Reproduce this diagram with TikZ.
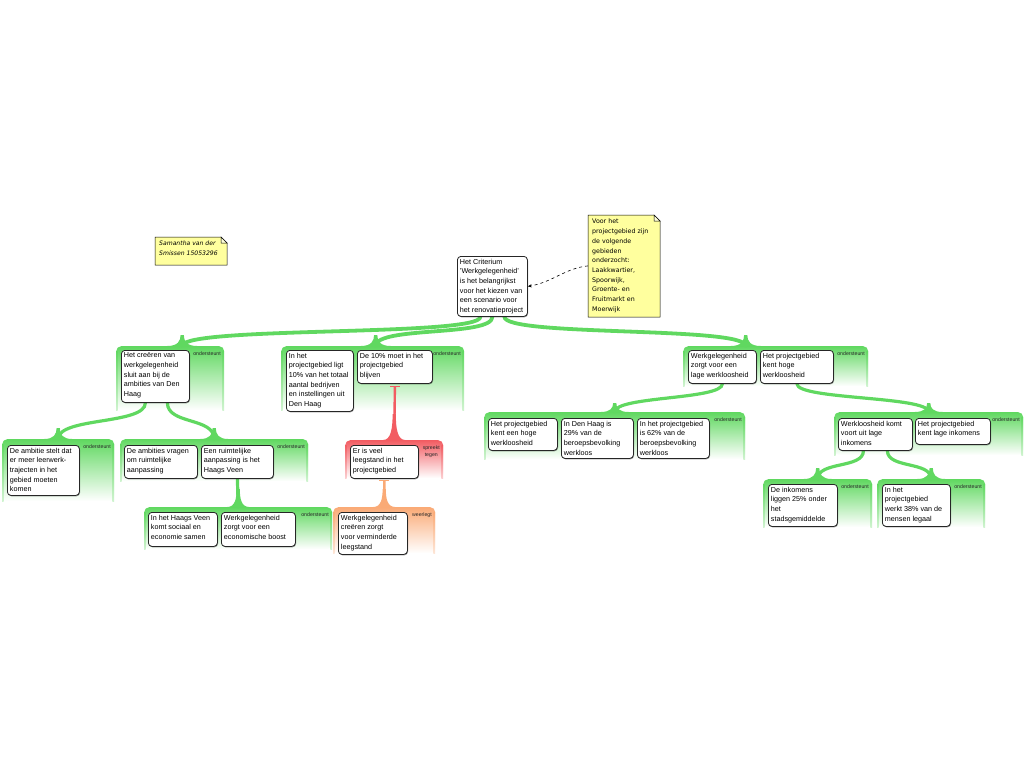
\documentclass[tikz,border=0pt]{standalone}
\usepackage{fontspec}
\setmainfont{Liberation Sans}
\newfontfamily\notefont{DejaVu Sans}
\usetikzlibrary{calc,shadows,arrows.meta}
\definecolor{grn}{RGB}{96,216,96}
\definecolor{redc}{RGB}{242,92,98}
\definecolor{orc}{RGB}{250,170,118}
\definecolor{notey}{RGB}{255,255,158}
\pgfdeclarelayer{bg}
\pgfdeclarelayer{mid}
\pgfsetlayers{bg,mid,main}
\tikzset{
  card/.style={draw=black!85, line width=0.8pt, rounded corners=3.5pt, fill=white,
    inner xsep=2.5pt, inner ysep=2.5pt, anchor=north west,
    font=\fontsize{7.2}{9.7}\selectfont,
    drop shadow={shadow xshift=0.6pt, shadow yshift=-0.9pt, opacity=0.4, fill=black}},
  grp/.style={rounded corners=5pt, anchor=north west, inner sep=0pt,
    top color=#1, bottom color=white, middle color=#1!50},
  lbl/.style={font=\fontsize{5.2}{6.5}\selectfont, text=black!85, inner sep=0pt,
    anchor=north east, align=center},
  conn/.style={draw=#1, line width=3.2pt, line cap=round},
  notetext/.style={anchor=north west, inner xsep=4pt, inner ysep=3pt,
    font=\notefont\fontsize{6.3}{9.7}\selectfont, align=left},
}
\newcommand\card[6]{\node[card] (#1) at (#2,#3)
  {\parbox[t][\dimexpr#5pt-5pt\relax][t]{\dimexpr#4pt-5pt\relax}{\raggedright #6}};}
\newcommand\grpbox[7]{%
  \node[grp=#6, minimum width=#4pt, minimum height=#5pt] (#1) at (#2,#3) {};
  \shade[top color=#6, bottom color=#6!30] (#2,#3+5) rectangle (#2+1.6,#3+#5);
  \shade[top color=#6, bottom color=#6!30] (#2+#4-1.6,#3+5) rectangle (#2+#4,#3+#5);
  \node[lbl] (#1-l) at (#2+#4-3,#3+6) {#7};}
% flare where a connector meets a group: #1 point, #2 colour, #3 half width, #4 height
\newcommand\flare[4]{%
  \begin{scope}[shift={(#1)}]
    \fill[#2] (-#3,0.5) -- (-#3,0) .. controls (-#3*0.3,0) and (-1.6,-#4*0.45) .. (-1.6,-#4)
      -- (1.6,-#4) .. controls (1.6,-#4*0.45) and (#3*0.3,0) .. (#3,0) -- (#3,0.5) -- cycle;
  \end{scope}}
\newcommand\curve[4]{%
  \draw[conn=#4] (#1) .. controls ($(#1)+(0,#3)$) and ($(#2)+(0,-#3)$) .. (#2);}

\begin{document}
\begin{tikzpicture}[x=1pt,y=-1pt]
\useasboundingbox (0,0) rectangle (1024,768);

% ---------- groups ----------
\begin{pgfonlayer}{bg}
\grpbox{gA}{116}{346}{108}{64}{grn}{ondersteunt}
\grpbox{gB}{281}{346}{183}{64}{grn}{ondersteunt}
\grpbox{gC}{683}{346}{185}{40}{grn}{ondersteunt}
\grpbox{gAa}{2}{439}{112}{62}{grn}{ondersteunt}
\grpbox{gAb}{120}{439}{188}{42}{grn}{ondersteunt}
\grpbox{gAba}{144}{507}{188}{42}{grn}{ondersteunt}
\grpbox{gR}{345}{440}{98}{38}{redc}{spreekt\\tegen}
\grpbox{gO}{333}{507}{102}{46}{orc}{weerlegt}
\grpbox{gCa}{484}{412}{261}{47}{grn}{ondersteunt}
\grpbox{gCb}{834}{412}{189}{43}{grn}{ondersteunt}
\grpbox{gCba}{763}{479}{109}{48}{grn}{ondersteunt}
\grpbox{gCbb}{877}{479}{108}{48}{grn}{ondersteunt}
\end{pgfonlayer}

% ---------- notes ----------
\draw[fill=notey, line width=0.5pt] (588,215) -- (654,215) -- (660,221) -- (660,317)
  -- (588,317) -- cycle;
\draw[fill=white!60!notey, line width=0.5pt] (654,215) -- (654,221) -- (660,221) -- cycle;
\node[notetext] (note) at (588,216) {Voor het\\projectgebied zijn\\de volgende\\gebieden\\onderzocht:\\Laakkwartier,\\Spoorwijk,\\Groente- en\\Fruitmarkt en\\Moerwijk};

\draw[fill=notey, line width=0.5pt] (155,237) -- (221,237) -- (227,243) -- (227,265)
  -- (155,265) -- cycle;
\draw[fill=white!60!notey, line width=0.5pt] (221,237) -- (221,243) -- (227,243) -- cycle;
\node[notetext, font=\notefont\itshape\fontsize{6.1}{9.7}\selectfont] (author) at (155,238)
  {Samantha van der\\Smissen 15053296};

% ---------- cards ----------
\card{root}{457}{256}{70}{60}{Het Criterium\\'Werkgelegenheid'\\is het belangrijkst\\voor het kiezen van\\een scenario voor\\het renovatieproject}
\card{A1}{121}{350}{68}{52}{Het creëren van\\werkgelegenheid\\sluit aan bij de\\ambities van Den\\Haag}
\card{B1}{286}{350}{67}{61}{In het\\projectgebied ligt\\10\% van het totaal\\aantal bedrijven\\en instellingen uit\\Den Haag}
\card{B2}{357}{350}{75}{33}{De 10\% moet in het\\projectgebied\\blijven}
\card{C1}{688}{350}{68}{33}{Werkgelegenheid\\zorgt voor een\\lage werkloosheid}
\card{C2}{760}{350}{73}{33}{Het projectgebied\\kent hoge\\werkloosheid}
\card{Aa1}{7}{445}{72}{50}{De ambitie stelt dat\\er meer leerwerk-\\trajecten in het\\gebied moeten\\komen}
\card{Ab1}{124}{445}{73}{33}{De ambities vragen\\om ruimtelijke\\aanpassing}
\card{Ab2}{201}{445}{72}{33}{Een ruimtelijke\\aanpassing is het\\Haags Veen}
\card{Aba1}{148}{512}{69}{34}{In het Haags Veen\\komt sociaal en\\economie samen}
\card{Aba2}{221}{512}{74}{34}{Werkgelegenheid\\zorgt voor een\\economische boost}
\card{R1}{350}{445}{68}{33}{Er is veel\\leegstand in het\\projectgebied}
\card{O1}{338}{512}{69}{42}{Werkgelegenheid\\creëren zorgt\\voor verminderde\\leegstand}
\card{Ca1}{488}{418}{69}{32}{Het projectgebied\\kent een hoge\\werkloosheid}
\card{Ca2}{561}{418}{72}{40}{In Den Haag is\\29\% van de\\beroepsbevolking\\werkloos}
\card{Ca3}{637}{418}{72}{40}{In het projectgebied\\is 62\% van de\\beroepsbevolking\\werkloos}
\card{Cb1}{838}{418}{74}{32}{Werkloosheid komt\\voort uit lage\\inkomens}
\card{Cb2}{915}{418}{75}{26}{Het projectgebied\\kent lage inkomens}
\card{Cba1}{768}{484}{69}{42}{De inkomens\\liggen 25\% onder\\het\\stadsgemiddelde}
\card{Cbb1}{882}{484}{68}{42}{In het\\projectgebied\\werkt 38\% van de\\mensen legaal}

% ---------- connectors ----------
\begin{pgfonlayer}{mid}
\curve{[xshift=-12pt]root.south}{[xshift=12pt]gA.north}{20}{grn, line width=3.8pt}
\curve{root.south}{[xshift=3pt]gB.north}{20}{grn, line width=3.8pt}
\curve{[xshift=12pt]root.south}{[xshift=-30pt]gC.north}{20}{grn, line width=3.8pt}
\flare{[xshift=12pt]gA.north}{grn}{15}{11}
\flare{[xshift=3pt]gB.north}{grn}{15}{11}
\flare{[xshift=-30pt]gC.north}{grn}{15}{11}
\curve{[xshift=-10pt]A1.south}{gAa.north}{22}{grn}
\curve{[xshift=12pt]A1.south}{gAb.north}{22}{grn}
\flare{gAa.north}{grn}{14}{11}
\flare{gAb.north}{grn}{14}{11}
\draw[conn=grn] (Ab2.south) -- (gAba.north);
\flare{gAba.north}{grn}{11}{18}
\curve{C1.south}{gCa.north}{16}{grn}
\curve{C2.south}{gCb.north}{16}{grn}
\flare{gCa.north}{grn}{14}{9}
\flare{gCb.north}{grn}{14}{9}
\curve{[xshift=-12pt]Cb1.south}{gCba.north}{18}{grn}
\curve{[xshift=12pt]Cb1.south}{gCbb.north}{18}{grn}
\flare{gCba.north}{grn}{14}{11}
\flare{gCbb.north}{grn}{14}{11}
\draw[conn=redc, line width=2.4pt, line cap=butt] ([yshift=-2.5pt]B2.south) -- (gR.north);
\draw[redc, line width=1.1pt] ([xshift=-5pt,yshift=-2.5pt]B2.south) -- ([xshift=5pt,yshift=-2.5pt]B2.south);
\flare{gR.north}{redc}{11}{26}
\draw[conn=orc, line width=2.4pt, line cap=butt] ([yshift=-1.5pt]R1.south) -- (gO.north);
\draw[orc, line width=1.1pt] ([xshift=-5pt,yshift=-1.5pt]R1.south) -- ([xshift=5pt,yshift=-1.5pt]R1.south);
\flare{gO.north}{orc}{11}{18}
\end{pgfonlayer}

\draw[dashed, line width=0.6pt, -{Stealth[length=4pt,width=3.2pt]}]
  (note.west) .. controls ($(note.west)+(-22,2)$) and ($(root.east)+(24,-4)$) .. (root.east);
\end{tikzpicture}
\end{document}
